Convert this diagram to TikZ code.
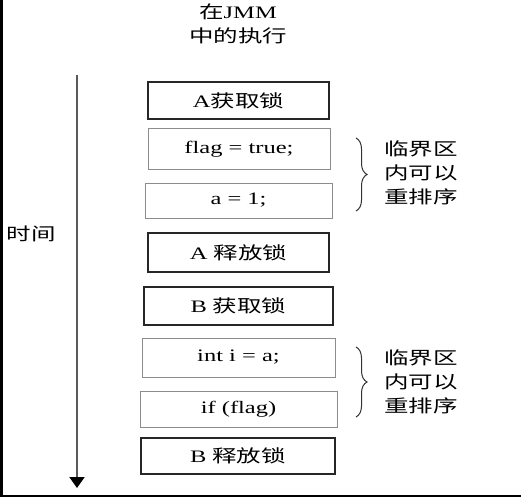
\documentclass[tikz,border=0pt]{standalone}
\usepackage{fontspec}
\usepackage{graphicx}
\setmainfont{Liberation Serif}
\newfontfamily\cjk{Noto Sans CJK SC}
\usetikzlibrary{arrows.meta,decorations.pathreplacing}
\newcommand{\sx}[1]{\scalebox{1.4}[1]{#1}}
\begin{document}
\begin{tikzpicture}[x=1pt,y=-1pt,
  darkbox/.style={draw=black!85,line width=1.3pt,minimum width=#1,inner sep=0pt},
  lightbox/.style={draw=black!45,line width=1pt,minimum width=#1,inner sep=0pt},
  txt/.style={font=\fontsize{17.5}{24}\selectfont,inner sep=0pt,align=center},
  brc/.style={decorate,decoration={brace,amplitude=11pt},line width=1pt,draw=black!80},
]
\useasboundingbox (0,0) rectangle (521,497);
\fill[white] (0,0) rectangle (521,497);
\fill[black] (0,0) rectangle (2.5,497);
\fill[black] (0,494.5) rectangle (521,497);

% title
\node[txt] (title) at (238,24) {\sx{\cjk 在}\sx{JMM}\\[0pt]\sx{\cjk 中的执行}};

% time arrow
\coordinate (tstart) at (77,75);
\coordinate (tend) at (77,488);
\draw[line width=2pt,black!65,-{Triangle[width=15pt,length=11pt,black]}] (tstart) -- (tend);
\node[txt] (time) at (31,234) {\sx{\cjk 时间}};

% boxes
\node[darkbox=181pt,minimum height=37pt,txt] (b1) at (238.5,100.5) {\sx{A}\sx{\cjk 获取锁}};
\node[lightbox=182pt,minimum height=40pt,txt] (b2) at (239,149) {\sx{flag = true;}};
\node[lightbox=187pt,minimum height=35pt,txt] (b3) at (238.5,200.5) {\sx{a = 1;}};
\node[darkbox=181pt,minimum height=39pt,txt] (b4) at (238.5,252.5) {\sx{A }\sx{\cjk 释放锁}};
\node[darkbox=189pt,minimum height=38pt,txt] (b5) at (238.5,306) {\sx{B }\sx{\cjk 获取锁}};
\node[lightbox=193pt,minimum height=39pt,txt] (b6) at (238.5,357.5) {\sx{int i = a;}};
\node[lightbox=197pt,minimum height=36pt,txt] (b7) at (238.5,409) {\sx{if (flag)}};
\node[darkbox=194pt,minimum height=36pt,txt] (b8) at (238,456) {\sx{B }\sx{\cjk 释放锁}};

% braces and notes
\coordinate (br1t) at (356,138);
\coordinate (br1b) at (356,211);
\draw[brc] (br1t) -- (br1b);
\node[txt,anchor=west] (n1) at (384,173) {\sx{\cjk 临界区}\\\sx{\cjk 内可以}\\\sx{\cjk 重排序}};

\coordinate (br2t) at (356,347);
\coordinate (br2b) at (356,417);
\draw[brc] (br2t) -- (br2b);
\node[txt,anchor=west] (n2) at (384,382) {\sx{\cjk 临界区}\\\sx{\cjk 内可以}\\\sx{\cjk 重排序}};
\end{tikzpicture}
\end{document}
